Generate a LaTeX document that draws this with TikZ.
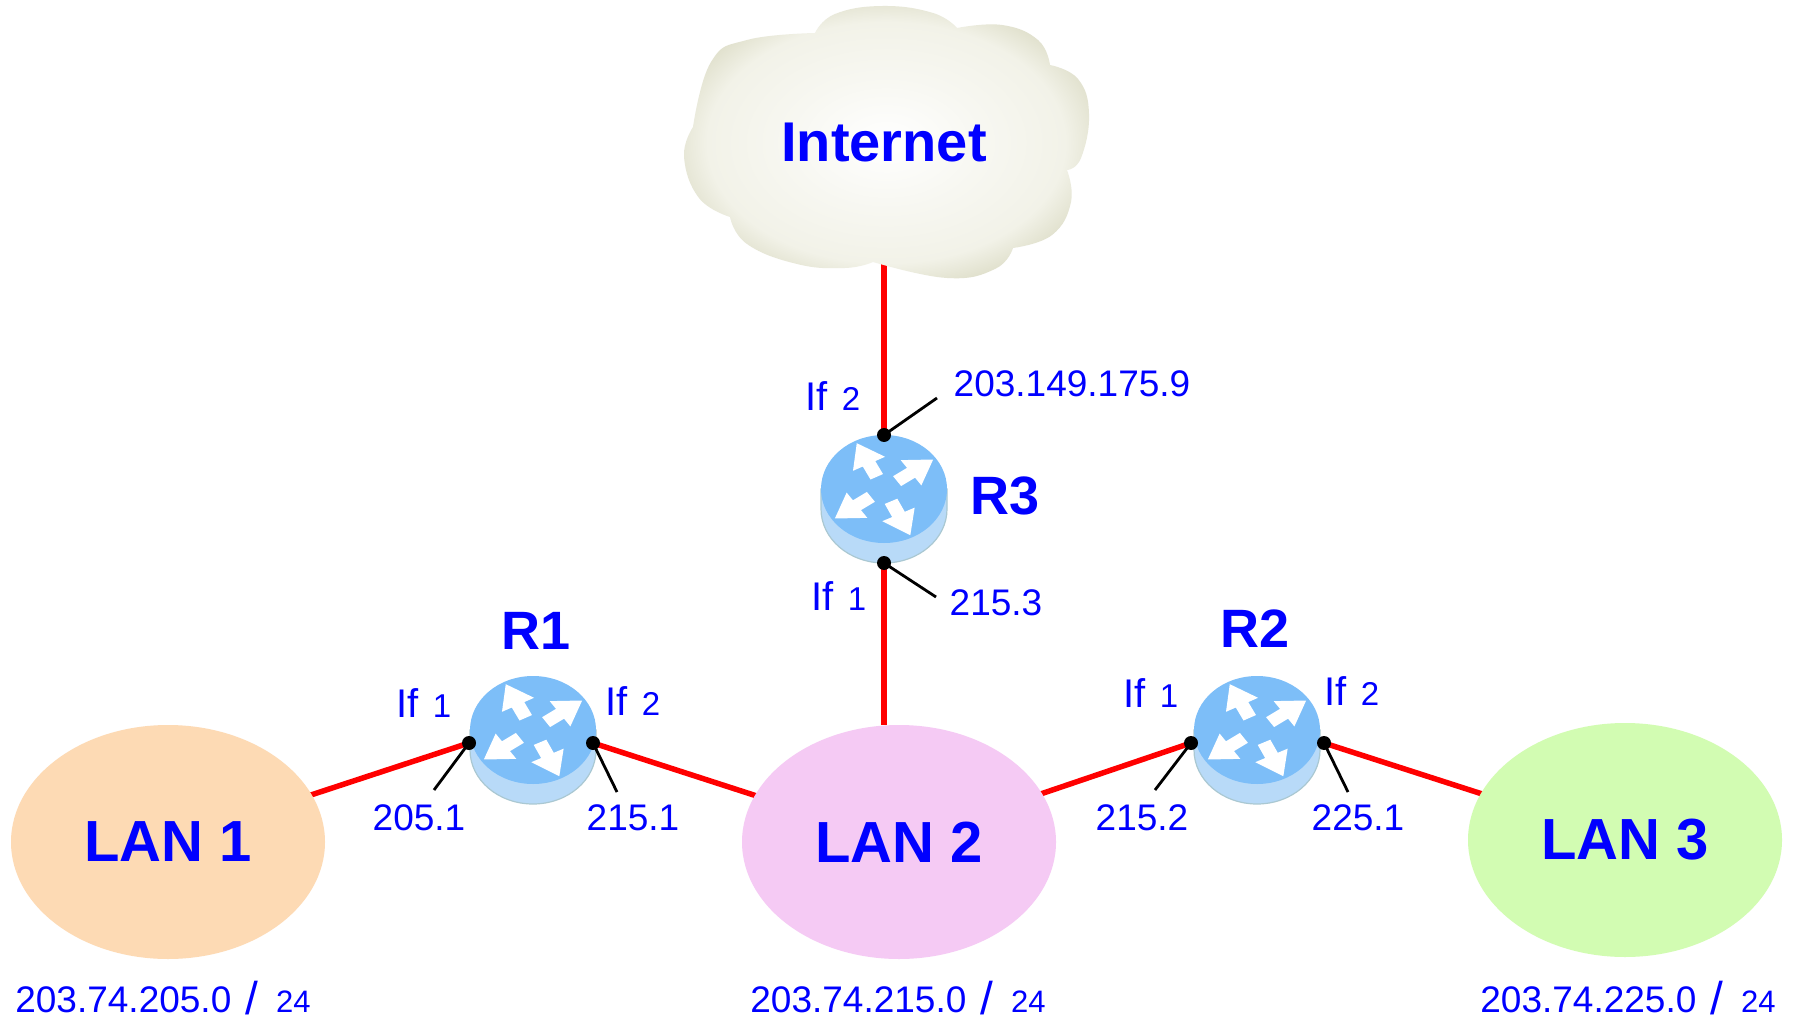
\documentclass[tikz,border=0pt]{standalone}
\usepackage{fontspec}
\setmainfont{Liberation Sans}
\usetikzlibrary{shapes.geometric,backgrounds}
\definecolor{lanA}{RGB}{253,218,180}
\definecolor{lanB}{RGB}{245,202,244}
\definecolor{lanC}{RGB}{210,252,178}
\definecolor{cloudedge}{RGB}{220,220,198}
\definecolor{cloudmid}{RGB}{242,242,232}
\definecolor{rtop}{RGB}{125,190,248}
\definecolor{rside}{RGB}{184,218,248}
\definecolor{rline}{RGB}{170,200,210}
\definecolor{linkred}{RGB}{255,0,0}
\definecolor{txtblue}{RGB}{0,0,255}
\pgfdeclareradialshading{cloudshade}{\pgfpoint{0bp}{0bp}}{%
 color(0bp)=(white); color(12bp)=(cloudmid!60!white); color(22bp)=(cloudmid); color(28bp)=(cloudedge); color(50bp)=(cloudedge)}
\newcommand{\routericon}[2]{%
 \begin{scope}[shift={(#1,#2)}]
  \fill[rside,draw=rline,line width=0.6pt] (-63,0) -- (-63,-20) arc[start angle=180,end angle=360,x radius=63,y radius=54] -- (63,0) -- cycle;
  \fill[rtop] (0,0) ellipse[x radius=63,y radius=54];
  \begin{scope}[yscale=0.857]
   \foreach \a in {117,35,215,296}{
     \fill[white,rotate=\a] (16,-7) -- (33,-7) -- (33,-18) -- (60,0) -- (33,18) -- (33,7) -- (16,7) -- cycle;}
  \end{scope}
 \end{scope}}
\newcommand{\portlab}[1]{{\fontsize{20}{22}\selectfont If}\hspace{7pt}{\fontsize{16.5}{18}\selectfont #1}}
\newcommand{\subnetlab}[1]{#1\hspace{7pt}\raisebox{-1pt}{\fontsize{23}{26}\selectfont /}\hspace{9pt}{\fontsize{15.5}{17}\selectfont 24}}
\tikzset{
 num/.style={text=txtblue, inner sep=0pt, anchor=base, font=\fontsize{18.5}{20}\selectfont},
 bigbold/.style={text=txtblue, inner sep=0pt, anchor=base, font=\bfseries\fontsize{27}{30}\selectfont},
 link/.style={linkred, line width=2.75pt},
 leader/.style={black, line width=1.4pt},
 lan/.style={ellipse, minimum width=157pt, minimum height=117pt, inner sep=0pt, text=txtblue, font=\bfseries\fontsize{29}{32}\selectfont},
 portdot/.style={black},
}
\begin{document}
\begin{tikzpicture}[x=0.5pt,y=0.5pt]
\useasboundingbox (0,0) rectangle (1797,1024);

% cloud
\shade[shading=cloudshade]
 (693,897) -- plot[smooth,tension=0.75] coordinates {(693,897) (711,962) (747,984) (815,991)}
 -- plot[smooth,tension=0.75] coordinates {(815,991) (835,1010) (883,1018) (933,1011) (957,996)}
 -- plot[smooth,tension=0.75] coordinates {(957,996) (1002,999) (1038,984) (1050,959)}
 -- plot[smooth,tension=0.75] coordinates {(1050,959) (1078,945) (1089,910) (1081,866) (1067,854)}
 -- plot[smooth,tension=0.75] coordinates {(1067,854) (1071,822) (1052,789) (1013,776)}
 -- plot[smooth,tension=0.75] coordinates {(1013,776) (995,755) (947,746) (873,762)}
 -- plot[smooth,tension=0.75] coordinates {(873,762) (845,756) (797,760) (747,780) (730,807)}
 -- plot[smooth,tension=0.75] coordinates {(730,807) (699,826) (684,867) (693,897)} -- cycle;
\node[bigbold, font=\bfseries\fontsize{28}{30}\selectfont] (internet) at (884,862) {Internet};
\coordinate (cloudbot) at (884,790);

% LANs
\node[lan, fill=lanA] (lan1) at (168,182) {LAN 1};
\node[lan, fill=lanB] (lan2) at (899,182) {LAN 2};
\node[lan, fill=lanC] (lan3) at (1625,184) {LAN 3};

% routers
\routericon{533}{294}
\routericon{1257}{294}
\routericon{884}{535}
\coordinate (r1a) at (469,281);
\coordinate (r1b) at (593,281);
\coordinate (r2a) at (1191,281);
\coordinate (r2b) at (1324,281);
\coordinate (r3t) at (884,589);
\coordinate (r3b) at (884,461);
\coordinate (r1al) at (434,234);
\coordinate (r1bl) at (617,232);
\coordinate (r2al) at (1155,234);
\coordinate (r2bl) at (1348,232);
\coordinate (r3tl) at (937,626);
\coordinate (r3bl) at (936,427);

% links (under everything)
\begin{scope}[on background layer]
 \fill[white] (0,0) rectangle (1797,1024);
 \draw[link] (r3t) -- (cloudbot);
 \draw[link] (r3b) -- (r3b |- lan2.north);
 \draw[link] (r1a) -- (lan1.center);
 \draw[link] (r1b) -- (lan2.center);
 \draw[link] (r2a) -- (lan2.center);
 \draw[link] (r2b) -- (lan3.center);
\end{scope}

% leaders and dots
\foreach \p in {r1a,r1b,r2a,r2b,r3t,r3b}{\draw[leader] (\p) -- (\p l);}
\foreach \p in {r1a,r1b,r2a,r2b,r3t,r3b}{\fill[portdot] (\p) circle[radius=7];}

% router names
\node[bigbold] (r1name) at (536,375) {R1};
\node[bigbold] (r2name) at (1255,377) {R2};
\node[bigbold] (r3name) at (1005,510) {R3};

% interface labels
\node[num] (r1if1) at (424,307) {\portlab{1}};
\node[num] (r1if2) at (633,309) {\portlab{2}};
\node[num] (r2if1) at (1151,317) {\portlab{1}};
\node[num] (r2if2) at (1352,319) {\portlab{2}};
\node[num] (r3if2) at (833,613) {\portlab{2}};
\node[num] (r3if1) at (839,414) {\portlab{1}};

% addresses
\node[num] (a1) at (419,194) {205.1};
\node[num] (a2) at (633,194) {215.1};
\node[num] (a3) at (1142,194) {215.2};
\node[num] (a4) at (1358,194) {225.1};
\node[num] (a5) at (1072,627) {203.149.175.9};
\node[num] (a6) at (996,409) {215.3};

% subnets
\node[num] (s1) at (163,12) {\subnetlab{203.74.205.0}};
\node[num] (s2) at (898,12) {\subnetlab{203.74.215.0}};
\node[num] (s3) at (1628,12) {\subnetlab{203.74.225.0}};
\end{tikzpicture}
\end{document}
